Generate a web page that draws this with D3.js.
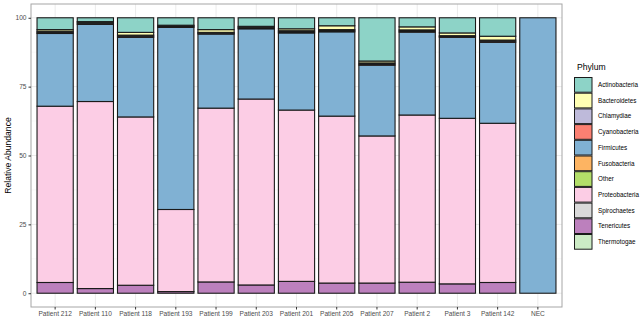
<!DOCTYPE html>
<html>
<head>
<meta charset="utf-8">
<script src="https://cdn.jsdelivr.net/npm/d3@7/dist/d3.min.js"></script>
<style>
  html, body { margin: 0; padding: 0; background: #fff; }
  svg { display: block; font-family: "Liberation Sans", Arial, sans-serif; }
</style>
</head>
<body>
<svg id="chart" width="644" height="322"></svg>
<script>
const categories = ["Patient 212","Patient 110","Patient 118","Patient 193","Patient 199","Patient 203","Patient 201","Patient 205","Patient 207","Patient 2","Patient 3","Patient 142","NEC"];
const phyla = ["Actinobacteria","Bacteroidetes","Chlamydiae","Cyanobacteria","Firmicutes","Fusobacteria","Other","Proteobacteria","Spirochaetes","Tenericutes","Thermotogae"];
const phylumColors = ["#8DD3C7","#FFFFB3","#BEBADA","#FB8072","#80B1D3","#FDB462","#B3DE69","#FCCDE5","#D9D9D9","#BC80BD","#CCEBC5"];

const actinobacteria = [4.3, 1.4, 5.3, 2.7, 4.3, 3.1, 4.0, 2.9, 15.7, 3.3, 5.5, 6.7, 0];
const bacteroidetes  = [0.6, 0.2, 1.0, 0.2, 1.0, 0.3, 0.7, 1.4, 0.7, 1.1, 1.0, 1.4, 0];
const chlamydiae     = [0.4, 0.4, 0.4, 0.3, 0.3, 0.3, 0.4, 0.4, 0.4, 0.4, 0.3, 0.4, 0];
const cyanobacteria  = [0.4, 0.4, 0.4, 0.3, 0.3, 0.3, 0.4, 0.4, 0.4, 0.4, 0.3, 0.4, 0];
const firmicutes     = [26.4, 28.0, 28.9, 66.1, 26.9, 25.5, 28.0, 30.6, 25.7, 30.1, 29.4, 29.4, 100];
const fusobacteria   = [0, 0, 0, 0, 0, 0, 0, 0, 0, 0, 0, 0, 0];
const other          = [0, 0, 0, 0, 0, 0, 0, 0, 0, 0, 0, 0, 0];
const proteobacteria = [64.0, 67.9, 61.1, 29.8, 63.1, 67.5, 62.2, 60.6, 53.4, 60.7, 60.1, 57.8, 0];
const spirochaetes   = [0, 0, 0, 0, 0, 0, 0, 0, 0, 0, 0, 0, 0];
const tenericutes    = [3.9, 1.7, 2.9, 0.6, 4.1, 3.0, 4.3, 3.7, 3.7, 4.0, 3.4, 3.9, 0];
const thermotogae    = [0, 0, 0, 0, 0, 0, 0, 0, 0, 0, 0, 0, 0];
const yTicks = [0, 25, 50, 75, 100];
const yLabel = "Relative Abundance";
const legendTitle = "Phylum";

const seriesValues = [actinobacteria, bacteroidetes, chlamydiae, cyanobacteria, firmicutes, fusobacteria, other, proteobacteria, spirochaetes, tenericutes, thermotogae];

const svg = d3.select("#chart");
const panel = {left: 31, right: 562, top: 4, bottom: 307};

const x = d3.scaleBand().domain(categories).range([panel.left, panel.right]).paddingInner(0.1).paddingOuter(0.15);
const y = d3.scaleLinear().domain([-5, 105]).range([panel.bottom, panel.top]);

const rows = categories.map((c, i) => {
  const r = {category: c};
  phyla.forEach((p, j) => r[p] = seriesValues[j][i]);
  return r;
});
const stackKeys = phyla.slice().reverse();
const stacked = d3.stack().keys(stackKeys)(rows);
const color = d3.scaleOrdinal().domain(phyla).range(phylumColors);

svg.append("rect").attr("x", panel.left).attr("y", panel.top)
  .attr("width", panel.right - panel.left).attr("height", panel.bottom - panel.top)
  .attr("fill", "#fff");

const minor = [12.5, 37.5, 62.5, 87.5];
svg.append("g").selectAll("line").data(minor).join("line")
  .attr("x1", panel.left).attr("x2", panel.right)
  .attr("y1", d => y(d)).attr("y2", d => y(d))
  .attr("stroke", "#f2f2f2").attr("stroke-width", 0.5);
svg.append("g").selectAll("line").data(yTicks).join("line")
  .attr("x1", panel.left).attr("x2", panel.right)
  .attr("y1", d => y(d)).attr("y2", d => y(d))
  .attr("stroke", "#ebebeb").attr("stroke-width", 1);
svg.append("g").selectAll("line").data(categories).join("line")
  .attr("x1", d => x(d) + x.bandwidth() / 2).attr("x2", d => x(d) + x.bandwidth() / 2)
  .attr("y1", panel.top).attr("y2", panel.bottom)
  .attr("stroke", "#ebebeb").attr("stroke-width", 1);

svg.append("g").selectAll("g").data(stacked).join("g")
  .attr("fill", d => color(d.key))
  .selectAll("rect").data(d => d.filter(s => s[1] - s[0] > 0)).join("rect")
  .attr("x", d => x(d.data.category))
  .attr("width", x.bandwidth())
  .attr("y", d => y(d[1]))
  .attr("height", d => y(d[0]) - y(d[1]))
  .attr("stroke", "#1a1a1a").attr("stroke-width", 1.1);

svg.append("rect").attr("x", panel.left).attr("y", panel.top)
  .attr("width", panel.right - panel.left).attr("height", panel.bottom - panel.top)
  .attr("fill", "none").attr("stroke", "#a6a6a6").attr("stroke-width", 1);

const yAxis = svg.append("g").attr("transform", `translate(${panel.left},0)`)
  .call(d3.axisLeft(y).tickValues(yTicks).tickSize(2.5).tickPadding(2));
yAxis.select(".domain").remove();
yAxis.selectAll("line").attr("stroke", "#333");
yAxis.selectAll("text").attr("font-size", 6.6).attr("fill", "#4d4d4d")
  .attr("font-family", "Liberation Sans, Arial, sans-serif");

const xAxis = svg.append("g").attr("transform", `translate(0,${panel.bottom})`)
  .call(d3.axisBottom(x).tickSize(2.5).tickPadding(2));
xAxis.select(".domain").remove();
xAxis.selectAll("line").attr("stroke", "#333");
xAxis.selectAll("text").attr("font-size", 6.6).attr("fill", "#4d4d4d")
  .attr("font-family", "Liberation Sans, Arial, sans-serif");

svg.append("text")
  .attr("transform", `translate(10.5,${(panel.top + panel.bottom) / 2}) rotate(-90)`)
  .attr("text-anchor", "middle").attr("font-size", 8.6).attr("fill", "#000")
  .text(yLabel);

const lg = svg.append("g").attr("transform", "translate(574,0)");
lg.append("text").attr("x", 3).attr("y", 70).attr("font-size", 8.6).attr("fill", "#000").text(legendTitle);
const keyH = 15.7, keyTop = 77;
const items = lg.selectAll("g.item").data(phyla).join("g")
  .attr("transform", (d, i) => `translate(0,${keyTop + i * keyH})`);
items.append("rect").attr("x", 0.5).attr("y", 0.5).attr("width", 17.5).attr("height", keyH - 1)
  .attr("fill", d => color(d)).attr("stroke", "#1a1a1a").attr("stroke-width", 1);
items.append("text").attr("x", 24).attr("y", keyH / 2).attr("dy", "0.35em")
  .attr("font-size", 6.3).attr("fill", "#000").text(d => d);
</script>
</body>
</html>
